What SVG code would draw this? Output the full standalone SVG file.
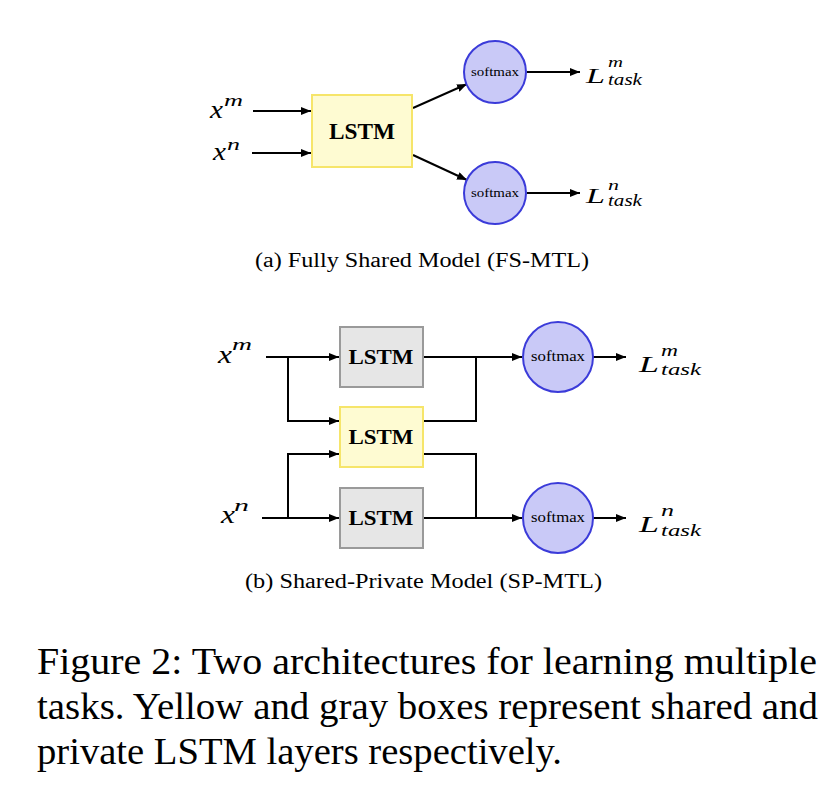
<svg xmlns="http://www.w3.org/2000/svg" width="838" height="796" viewBox="0 0 838 796">
<style>
.ln{fill:none;stroke:#000;stroke-width:2}
.gray{fill:#e6e6e6;stroke:#9a9a9a;stroke-width:2}
.yel{fill:#fefbd2;stroke:#f6e56a;stroke-width:2}
.sm{fill:#c9c9f7;stroke:#3b3bd9;stroke-width:2}
.lstm{font-family:"Liberation Serif","DejaVu Serif",serif;font-weight:bold;text-anchor:middle;fill:#000}
.smt{font-family:"Liberation Serif",serif;text-anchor:middle;fill:#000}
.m{font-family:"Liberation Serif",serif;font-style:italic;fill:#000}
.cap{font-family:"Liberation Serif",serif;fill:#000}
</style>
<defs>
<marker id="ah" markerWidth="11" markerHeight="9" refX="10" refY="4" orient="auto" markerUnits="userSpaceOnUse">
<path d="M0,0 L10,4 L0,8 Z" fill="#000"/>
</marker>
</defs>
<rect width="838" height="796" fill="#fff"/>

<g id="connectors">
<path class="ln" d="M253,111 L311,111" marker-end="url(#ah)"/>
<path class="ln" d="M252,153 L311,153" marker-end="url(#ah)"/>
<path class="ln" d="M413,108 L467,84" marker-end="url(#ah)"/>
<path class="ln" d="M413,155 L467,180" marker-end="url(#ah)"/>
<path class="ln" d="M527,72 L580,72" marker-end="url(#ah)"/>
<path class="ln" d="M527,193 L580,193" marker-end="url(#ah)"/>

<path class="ln" d="M266,357 L339,357" marker-end="url(#ah)"/>
<path class="ln" d="M288,357 L288,421 L339,421" marker-end="url(#ah)"/>
<path class="ln" d="M262,518 L339,518" marker-end="url(#ah)"/>
<path class="ln" d="M288,518 L288,454 L339,454" marker-end="url(#ah)"/>
<path class="ln" d="M423,357 L522,357" marker-end="url(#ah)"/>
<path class="ln" d="M423,421 L476,421 L476,357"/>
<path class="ln" d="M423,454 L476,454 L476,518"/>
<path class="ln" d="M423,518 L522,518" marker-end="url(#ah)"/>
<path class="ln" d="M593,357 L626,357" marker-end="url(#ah)"/>
<path class="ln" d="M593,518 L626,518" marker-end="url(#ah)"/>
</g>

<g id="a-xm"><text class="m"><tspan x="210" y="118" font-size="25" textLength="13" lengthAdjust="spacingAndGlyphs">x</tspan><tspan x="224" y="106" font-size="17" textLength="19" lengthAdjust="spacingAndGlyphs">m</tspan></text></g>
<g id="a-xn"><text class="m"><tspan x="213" y="160" font-size="25" textLength="13" lengthAdjust="spacingAndGlyphs">x</tspan><tspan x="227" y="150" font-size="17" textLength="13" lengthAdjust="spacingAndGlyphs">n</tspan></text></g>
<g id="a-lstm"><rect class="yel" x="312" y="95" width="100" height="72"/><text class="lstm" x="362" y="139" font-size="24" textLength="66" lengthAdjust="spacingAndGlyphs">LSTM</text></g>
<g id="a-sm1"><circle class="sm" cx="495" cy="72" r="31"/><text class="smt" x="495" y="76" font-size="13" textLength="48" lengthAdjust="spacingAndGlyphs">softmax</text></g>
<g id="a-sm2"><circle class="sm" cx="495" cy="193" r="31"/><text class="smt" x="495" y="197" font-size="13" textLength="48" lengthAdjust="spacingAndGlyphs">softmax</text></g>
<g id="a-lm"><text class="m"><tspan x="586" y="83" font-size="22" textLength="19" lengthAdjust="spacingAndGlyphs">L</tspan><tspan x="608" y="67" font-size="15" textLength="15" lengthAdjust="spacingAndGlyphs">m</tspan><tspan x="608" y="85" font-size="16" textLength="34" lengthAdjust="spacingAndGlyphs">task</tspan></text></g>
<g id="a-ln"><text class="m"><tspan x="586" y="203" font-size="22" textLength="19" lengthAdjust="spacingAndGlyphs">L</tspan><tspan x="608" y="190" font-size="15" textLength="11" lengthAdjust="spacingAndGlyphs">n</tspan><tspan x="608" y="206" font-size="16" textLength="34" lengthAdjust="spacingAndGlyphs">task</tspan></text></g>

<text class="cap" x="255" y="267" font-size="20" textLength="334" lengthAdjust="spacingAndGlyphs">(a) Fully Shared Model (FS-MTL)</text>

<g id="b-xm"><text class="m"><tspan x="218" y="363" font-size="25" textLength="14" lengthAdjust="spacingAndGlyphs">x</tspan><tspan x="232" y="350" font-size="17" textLength="20" lengthAdjust="spacingAndGlyphs">m</tspan></text></g>
<g id="b-xn"><text class="m"><tspan x="221" y="523" font-size="25" textLength="14" lengthAdjust="spacingAndGlyphs">x</tspan><tspan x="234" y="511" font-size="17" textLength="15" lengthAdjust="spacingAndGlyphs">n</tspan></text></g>
<g id="b-lstm1"><rect class="gray" x="340" y="327" width="83" height="60"/><text class="lstm" x="381" y="364" font-size="21" textLength="65" lengthAdjust="spacingAndGlyphs">LSTM</text></g>
<g id="b-lstm2"><rect class="yel" x="340" y="407" width="83" height="60"/><text class="lstm" x="381" y="444" font-size="21" textLength="65" lengthAdjust="spacingAndGlyphs">LSTM</text></g>
<g id="b-lstm3"><rect class="gray" x="340" y="488" width="83" height="60"/><text class="lstm" x="381" y="525" font-size="21" textLength="65" lengthAdjust="spacingAndGlyphs">LSTM</text></g>
<g id="b-sm1"><circle class="sm" cx="558" cy="357" r="35"/><text class="smt" x="558" y="361" font-size="14" textLength="54" lengthAdjust="spacingAndGlyphs">softmax</text></g>
<g id="b-sm2"><circle class="sm" cx="558" cy="518" r="35"/><text class="smt" x="558" y="522" font-size="14" textLength="54" lengthAdjust="spacingAndGlyphs">softmax</text></g>
<g id="b-lm"><text class="m"><tspan x="639" y="372" font-size="24" textLength="20" lengthAdjust="spacingAndGlyphs">L</tspan><tspan x="661" y="356" font-size="16" textLength="17" lengthAdjust="spacingAndGlyphs">m</tspan><tspan x="661" y="375" font-size="17" textLength="40" lengthAdjust="spacingAndGlyphs">task</tspan></text></g>
<g id="b-ln"><text class="m"><tspan x="639" y="532" font-size="24" textLength="20" lengthAdjust="spacingAndGlyphs">L</tspan><tspan x="661" y="516" font-size="16" textLength="13" lengthAdjust="spacingAndGlyphs">n</tspan><tspan x="661" y="536" font-size="17" textLength="40" lengthAdjust="spacingAndGlyphs">task</tspan></text></g>

<text class="cap" x="245" y="588" font-size="20" textLength="357" lengthAdjust="spacingAndGlyphs">(b) Shared-Private Model (SP-MTL)</text>

<text class="cap" x="37" y="674" font-size="37" textLength="780" lengthAdjust="spacingAndGlyphs">Figure 2: Two architectures for learning multiple</text>
<text class="cap" x="37" y="719" font-size="37" textLength="781" lengthAdjust="spacingAndGlyphs">tasks. Yellow and gray boxes represent shared and</text>
<text class="cap" x="37" y="764" font-size="37" textLength="525" lengthAdjust="spacingAndGlyphs">private LSTM layers respectively.</text>
</svg>
